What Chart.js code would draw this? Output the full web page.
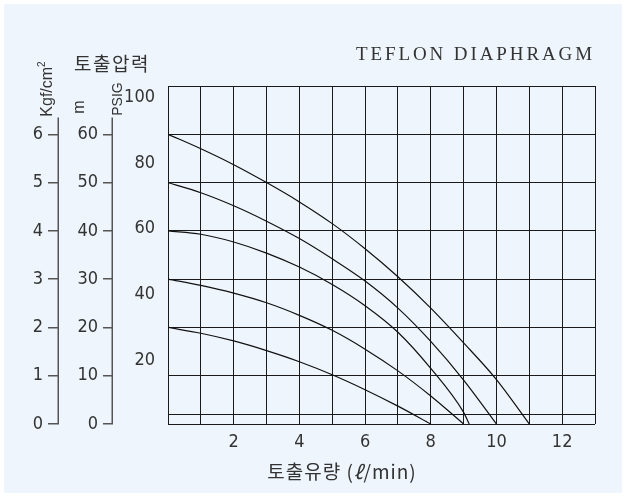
<!DOCTYPE html>
<html>
<head>
<meta charset="utf-8">
<script src="https://cdn.jsdelivr.net/npm/chart.js@4.4.1/dist/chart.umd.min.js"></script>
<style>
  body { margin: 0; background: #fff; }
  #wrap { position: relative; width: 626px; height: 497px; overflow: hidden; }
  #bg { position: absolute; left: 4px; top: 4px; right: 4px; bottom: 4px; background: #eef5fc; }
  #chart { position: absolute; left: 0; top: 0; }
  .lbl { position: absolute; color: #333; white-space: nowrap; line-height: 1; }
  .rot { transform: translate(-50%, -50%) rotate(-90deg); }
  .kr { font-family: 'Noto Sans CJK KR', sans-serif; }
</style>
</head>
<body>
<div id="wrap">
  <div id="bg"></div>
  <canvas id="chart" width="626" height="497"></canvas>
  <div class="lbl" style="right:31px; top:44px; font-family:'Liberation Serif','DejaVu Serif',serif; font-size:19px; letter-spacing:2.9px;">TEFLON DIAPHRAGM</div>
  <div class="lbl kr" style="left:112px; top:62px; transform:translate(-50%,-50%); font-size:19px; letter-spacing:1.5px;">토출압력</div>
  <div class="lbl rot" style="left:46px; top:89px; font-family:'Liberation Sans',sans-serif; font-size:16px;">Kgf/cm<sup style="font-size:10px;">2</sup></div>
  <div class="lbl rot" style="left:79px; top:107px; font-family:'Liberation Sans',sans-serif; font-size:16px;">m</div>
  <div class="lbl rot" style="left:117px; top:99px; font-family:'Liberation Sans',sans-serif; font-size:14px;">PSIG</div>
  <div class="lbl kr" style="left:342px; top:470px; transform:translate(-50%,-50%); font-size:19px; letter-spacing:1px;">토출유량 (<i>ℓ</i>/min)</div>
</div>
<script>
// flow (l/min) and pressure (kgf/cm2)
const flow6 = [0, 1, 2, 3, 4, 5, 6, 7, 8, 9, 10, 11];
const kgf6  = [6.0, 5.70, 5.37, 5.0, 4.60, 4.15, 3.63, 3.05, 2.40, 1.68, 0.92, 0];
const flow5 = [0, 1, 2, 3, 4, 5, 6, 7, 8, 9, 10];
const kgf5  = [5.0, 4.79, 4.52, 4.20, 3.84, 3.42, 2.96, 2.40, 1.71, 0.91, 0];
const flow4 = [0, 1, 2, 3, 4, 5, 6, 7, 8, 9, 9.17];
const kgf4  = [4.0, 3.93, 3.77, 3.54, 3.25, 2.89, 2.45, 1.90, 1.15, 0.24, 0];
const flow3 = [0, 1, 2, 3, 4, 5, 6, 7, 8, 9];
const kgf3  = [3.0, 2.87, 2.71, 2.51, 2.25, 1.94, 1.55, 1.10, 0.58, 0];
const flow2 = [0, 1, 2, 3, 4, 5, 6, 7, 8];
const kgf2  = [2.0, 1.88, 1.72, 1.52, 1.29, 1.02, 0.71, 0.37, 0];

const xTickLabels = [2, 4, 6, 8, 10, 12];
const gridLinesY = [0, 0.2, 1, 2, 3, 4, 5, 6, 7];
const kgfTicks = [0, 1, 2, 3, 4, 5, 6];
const mTicks = [0, 10, 20, 30, 40, 50, 60];
const psiTicks = [20, 40, 60, 80, 100];

const numFont = { family: "'Liberation Sans Narrow', 'DejaVu Sans Condensed', Roboto, sans-serif", size: 18 };

function curve(xs, ys) {
    return {
        data: xs.map((x, i) => ({ x: x, y: ys[i] })),
        borderColor: '#111',
        borderWidth: 1.2,
        pointRadius: 0,
        fill: false,
        cubicInterpolationMode: 'monotone',
        xAxisID: 'x',
        yAxisID: 'yGrid'
    };
}

function fixTicks(list) {
    return function(scale) { scale.ticks = list.map(v => ({ value: v })); };
}

// short axis spines for the kgf and m scales
const spines = {
    id: 'spines',
    afterDraw(chart) {
        const ctx = chart.ctx;
        ctx.save();
        ctx.strokeStyle = '#555';
        ctx.lineWidth = 1.5;
        [['kgf', 6.35], ['m', 63.5]].forEach(([id, top]) => {
            const s = chart.scales[id];
            const x = s.right - 0.75;
            ctx.beginPath();
            ctx.moveTo(x, s.getPixelForValue(top));
            ctx.lineTo(x, s.getPixelForValue(0));
            ctx.stroke();
        });
        ctx.restore();
    }
};

new Chart(document.getElementById('chart').getContext('2d'), {
    type: 'line',
    data: {
        datasets: [curve(flow6, kgf6), curve(flow5, kgf5), curve(flow4, kgf4), curve(flow3, kgf3), curve(flow2, kgf2)]
    },
    plugins: [spines],
    options: {
        responsive: false,
        animation: false,
        layout: { padding: { top: 86, right: 31, bottom: 0, left: 0 } },
        plugins: { legend: { display: false }, tooltip: { enabled: false } },
        scales: {
            x: {
                type: 'linear',
                min: 0,
                max: 13,
                afterBuildTicks: fixTicks([0, 1, 2, 3, 4, 5, 6, 7, 8, 9, 10, 11, 12, 13]),
                afterFit: s => { s.height = 73; },
                grid: { color: '#1a1a1a', lineWidth: 1, drawTicks: false },
                border: { display: false },
                ticks: {
                    padding: 8,
                    color: '#333',
                    font: numFont,
                    maxRotation: 0,
                    autoSkip: false,
                    callback: v => xTickLabels.includes(v) ? String(v) : ''
                }
            },
            yGrid: {
                type: 'linear',
                position: 'left',
                weight: 0,
                min: 0,
                max: 7,
                afterBuildTicks: fixTicks(gridLinesY),
                afterFit: s => { s.width = 0; },
                grid: { color: '#1a1a1a', lineWidth: 1, drawTicks: false },
                border: { display: false },
                ticks: { display: false }
            },
            psi: {
                type: 'linear',
                position: 'left',
                weight: 1,
                min: 0.5,
                max: 103.5,
                afterBuildTicks: fixTicks(psiTicks),
                afterFit: s => { s.width = 55; },
                grid: { display: false },
                border: { display: false },
                ticks: { padding: 5, color: '#333', font: numFont, autoSkip: false }
            },
            m: {
                type: 'linear',
                position: 'left',
                weight: 2,
                min: 0,
                max: 70,
                afterBuildTicks: fixTicks(mTicks),
                afterFit: s => { s.width = 54; },
                grid: { drawOnChartArea: false, drawTicks: true, tickLength: 10, color: '#555', lineWidth: 1.5 },
                border: { display: false },
                ticks: { padding: 5, color: '#333', font: numFont, autoSkip: false }
            },
            kgf: {
                type: 'linear',
                position: 'left',
                weight: 3,
                min: 0,
                max: 7,
                afterBuildTicks: fixTicks(kgfTicks),
                afterFit: s => { s.width = 59; },
                grid: { drawOnChartArea: false, drawTicks: true, tickLength: 11, color: '#555', lineWidth: 1.5 },
                border: { display: false },
                ticks: { padding: 5, color: '#333', font: numFont, autoSkip: false }
            }
        }
    }
});
</script>
</body>
</html>
